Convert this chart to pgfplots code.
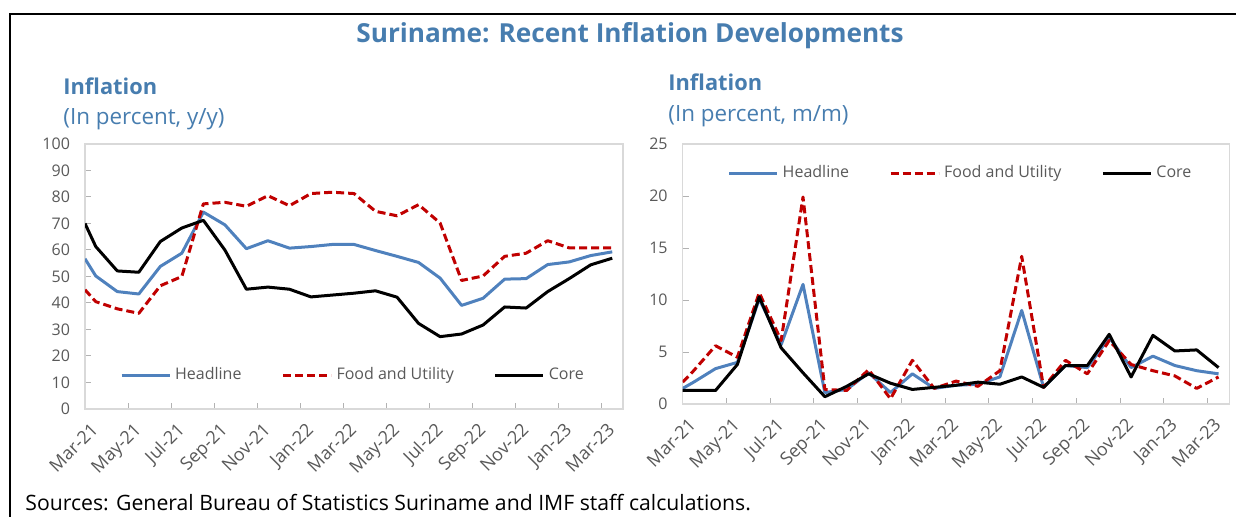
\documentclass[border=0pt]{standalone}
\usepackage{pgfplots}
\pgfplotsset{compat=1.18}
\usepackage{pgfplotstable}
\usepackage{fontspec}
\setmainfont{Open Sans}
\definecolor{hblue}{RGB}{79,129,189}
\definecolor{tblue}{RGB}{71,125,175}
\definecolor{fred}{RGB}{192,0,0}
\definecolor{tgray}{RGB}{89,89,89}
\definecolor{fgray}{RGB}{217,217,217}

\pgfplotstableread{
x h f c
0 56.7 45.0 70.0
0.5 50.2 40.5 61.3
1.5 44.3 37.8 52.1
2.5 43.4 36.1 51.6
3.5 53.8 46.5 63.2
4.5 58.8 50.0 68.3
5.5 74.3 77.4 71.2
6.5 69.5 78.0 60.0
7.5 60.5 76.5 45.2
8.5 63.5 80.5 46.0
9.5 60.7 76.7 45.2
10.5 61.3 81.3 42.3
11.5 62.1 81.8 43.0
12.5 62.1 81.3 43.7
13.5 59.8 74.6 44.6
14.5 57.6 72.9 42.2
15.5 55.3 77.1 32.3
16.5 49.4 70.2 27.3
17.5 39.1 48.5 28.3
18.5 41.8 50.2 31.7
19.5 49.0 57.6 38.5
20.5 49.2 58.8 38.1
21.5 54.5 63.5 44.3
22.5 55.5 60.8 49.2
23.5 57.9 60.8 54.4
24.5 59.3 60.8 56.9
}\yoy

\pgfplotstableread{
x h f c
0 1.5 2.1 1.3
0.5 2.1 3.2 1.3
1.5 3.4 5.6 1.3
2.5 4.0 4.5 3.8
3.5 10.1 10.7 10.3
4.5 5.7 6.1 5.4
5.5 11.5 19.9 3.0
6.5 1.1 1.4 0.7
7.5 1.4 1.3 1.7
8.5 3.0 3.3 2.9
9.5 1.1 0.5 2.0
10.5 2.9 4.2 1.4
11.5 1.5 1.5 1.6
12.5 1.8 2.2 1.8
13.5 1.9 1.7 2.1
14.5 2.6 3.2 1.9
15.5 9.0 14.2 2.6
16.5 1.6 1.6 1.6
17.5 3.7 4.2 3.7
18.5 3.5 2.9 3.7
19.5 6.4 6.1 6.7
20.5 3.5 3.8 2.6
21.5 4.6 3.2 6.6
22.5 3.7 2.7 5.1
23.5 3.2 1.5 5.2
24.5 2.9 2.6 3.5
}\mom

\pgfplotsset{
  mystyle/.style={
    scale only axis,
    xmin=0, xmax=25,
    axis line style={draw=fgray, line width=0.6pt},
    tick style={draw=black!30, line width=0.5pt},
    tick align=inside,
    major tick length=3pt,
    xtick pos=bottom, ytick pos=left,
    xtick={0,2,...,24},
    xticklabels={Mar-21,May-21,Jul-21,Sep-21,Nov-21,Jan-22,Mar-22,May-22,Jul-22,Sep-22,Nov-22,Jan-23,Mar-23},
    /pgf/number format/assume math mode=true,
    ticklabel style={font=\fontsize{8}{9}\selectfont, text=tgray},
    xticklabel style={rotate=45, anchor=north east, inner sep=1pt, xshift=-1.5pt, yshift=-5pt, font=\fontsize{9}{10}\selectfont},
    yticklabel style={xshift=-4pt},
    legend columns=3,
    legend style={draw=none, fill=none, font=\fontsize{8}{9}\selectfont, text=tgray,
      /tikz/every even column/.append style={column sep=18pt}},
    legend image code/.code={\draw[##1] (0pt,0pt) -- (24pt,0pt);},
    every axis plot/.append style={line width=1.5pt, line join=round},
  }
}

\begin{document}
\begin{tikzpicture}
\path[use as bounding box] (0,0) rectangle (618pt,-258.5pt);
\draw[line width=1pt] (5pt,-258.5pt) -- (5pt,-6.8pt) -- (618pt,-6.8pt);
\node[anchor=base, inner sep=0, text=tblue, font=\fontsize{13.1}{15}\selectfont\bfseries] at (315pt,-21.5pt) {Suriname: Recent Inflation Developments};
\node[anchor=base west, inner sep=0, text=tblue, font=\fontsize{10.9}{12}\selectfont\bfseries] at (31.5pt,-47.2pt) {Inflation};
\node[anchor=base west, inner sep=0, text=tblue, font=\fontsize{11.2}{13}\selectfont] at (31.5pt,-62.5pt) {(In percent, y/y)};
\node[anchor=base west, inner sep=0, text=tblue, font=\fontsize{10.9}{12}\selectfont\bfseries] at (334pt,-45.2pt) {Inflation};
\node[anchor=base west, inner sep=0, text=tblue, font=\fontsize{11.2}{13}\selectfont] at (334pt,-60.9pt) {(In percent, m/m)};
\node[anchor=base west, inner sep=0, text=black, font=\fontsize{10.6}{12}\selectfont] at (12.5pt,-255pt) {Sources: General Bureau of Statistics Suriname and IMF staff calculations.};

\begin{axis}[mystyle, at={(42.5pt,-204.5pt)}, anchor=south west,
  width=269pt, height=132.5pt,
  ymin=0, ymax=100, ytick={0,10,...,100},
  legend style={at={(0.5,0.128)}, anchor=center}]
\addplot[hblue] table[x=x,y=h] {\yoy};
\addlegendentry{Headline}
\addplot[fred, dash pattern=on 4pt off 2pt] table[x=x,y=f] {\yoy};
\addlegendentry{Food and Utility}
\addplot[black] table[x=x,y=c] {\yoy};
\addlegendentry{Core}
\end{axis}

\begin{axis}[mystyle, at={(341.35pt,-202pt)}, anchor=south west,
  width=273.4pt, height=130pt,
  ymin=0, ymax=25, ytick={0,5,...,25},
  legend style={at={(0.51,0.888)}, anchor=center}]
\addplot[hblue] table[x=x,y=h] {\mom};
\addlegendentry{Headline}
\addplot[fred, dash pattern=on 4pt off 2pt] table[x=x,y=f] {\mom};
\addlegendentry{Food and Utility}
\addplot[black] table[x=x,y=c] {\mom};
\addlegendentry{Core}
\end{axis}
\end{tikzpicture}
\end{document}
